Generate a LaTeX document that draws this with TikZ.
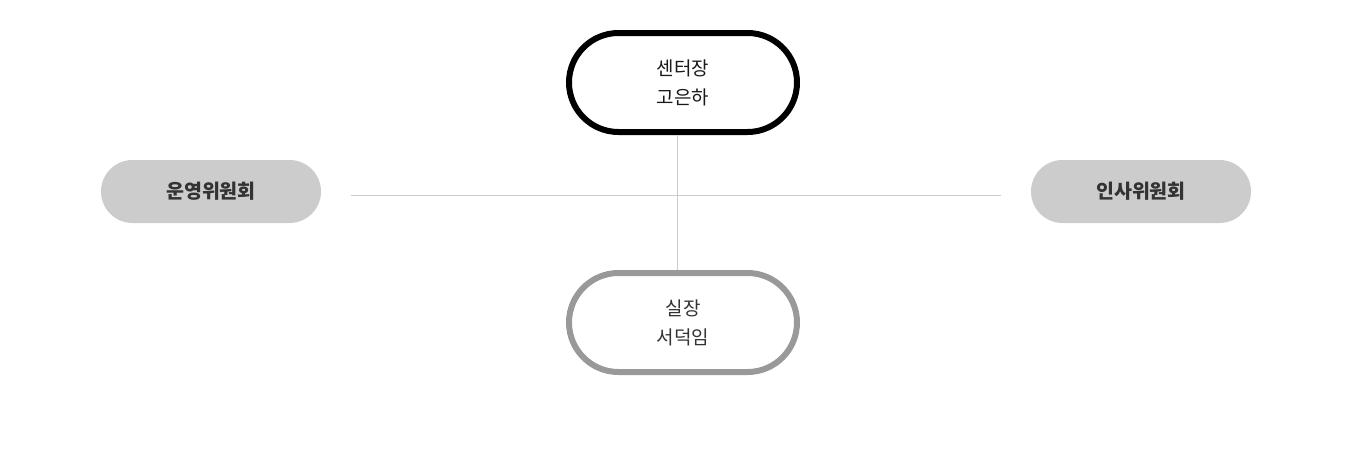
\documentclass[tikz,border=0pt]{standalone}
\usepackage{fontspec}
\setmainfont{Noto Sans CJK KR}
\begin{document}
\begin{tikzpicture}[x=1pt,y=-1pt,
  lead/.style={draw=black,line width=6pt,fill=white,rounded corners=49.5pt,
    minimum width=228pt,minimum height=99pt,align=center,text depth=0pt,
    font=\fontsize{19}{29}\selectfont,text=black!90},
  sub/.style={lead,draw=black!40,text=black!80},
  cmte/.style={fill=black!20,rounded corners=31.5pt,minimum width=220pt,
    minimum height=63pt,inner sep=0pt,font=\fontsize{19.5}{22}\selectfont\bfseries,text=black!80},
  link/.style={draw=black!20,line width=1pt}]
\useasboundingbox (0,0) rectangle (1350,450);
\node[lead] (top) at (683,82.5) {센터장\\고은하};
\node[sub] (bot) at (683,322.5) {실장\\서덕임};
\node[cmte] (left) at (211,191.5) {운영위원회};
\node[cmte] (right) at (1141,191.5) {인사위원회};
\coordinate (hl) at (351,195);
\coordinate (hr) at (1001,195);
\draw[link] (hl) -- (hr);
\draw[link] ([xshift=-6pt]top.south) -- ([xshift=-6pt]bot.north);
\end{tikzpicture}
\end{document}
